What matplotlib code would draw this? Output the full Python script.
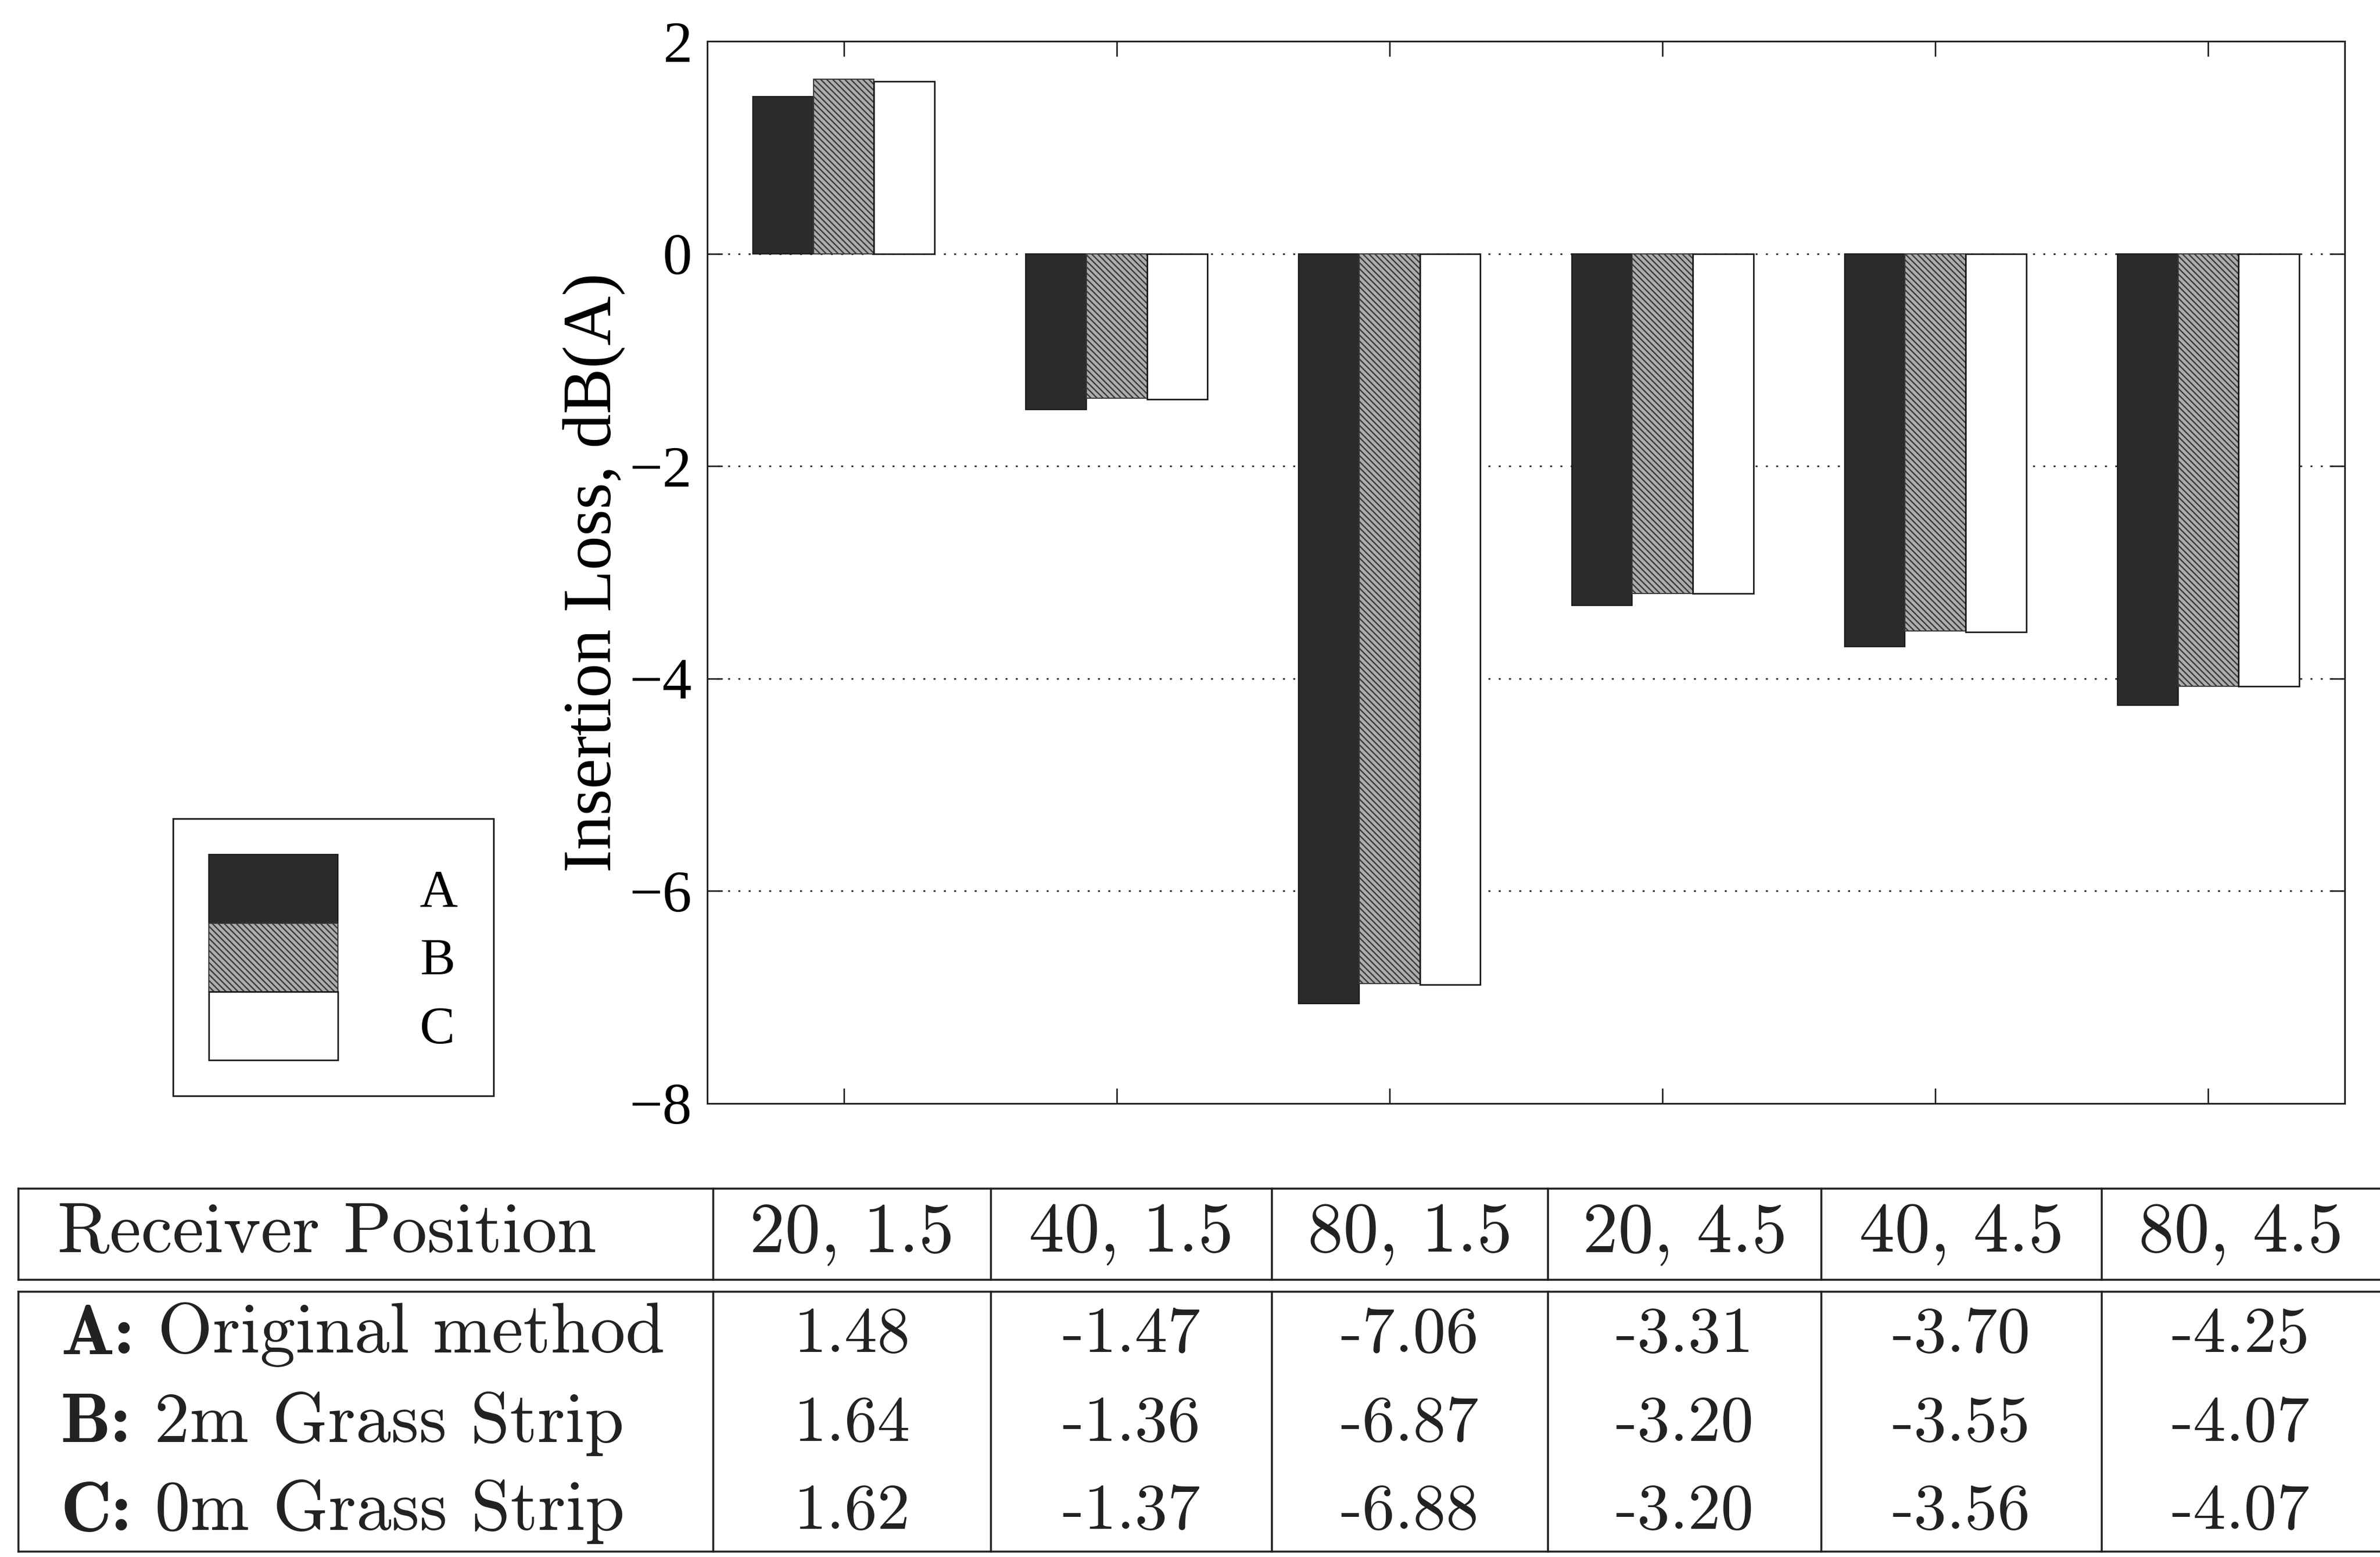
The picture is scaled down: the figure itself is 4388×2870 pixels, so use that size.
import numpy as np
import matplotlib.pyplot as plt

# Insertion loss at each receiver position (distance m, height m), dB(A)
positions = ['20, 1.5', '40, 1.5', '80, 1.5', '20, 4.5', '40, 4.5', '80, 4.5']
loss_a = [1.48, -1.47, -7.06, -3.31, -3.70, -4.25]
loss_b = [1.64, -1.36, -6.87, -3.20, -3.55, -4.07]
loss_c = [1.62, -1.37, -6.88, -3.20, -3.56, -4.07]
short_names = ['A', 'B', 'C']
long_names = ['Original method', '2m Grass Strip', '0m Grass Strip']
y_ticks = [2, 0, -2, -4, -6, -8]

plt.rcParams['hatch.linewidth'] = 1.8
serif = 'Liberation Serif'

W, H = 4388, 2870
fig = plt.figure(figsize=(W / 100, H / 100), dpi=100)

# ---- bar chart ----
ax = fig.add_axes([1304 / W, 1 - 2034 / H, (4323 - 1304) / W, (2034 - 76) / H])
x = np.arange(1, len(positions) + 1)
bw = 0.222
styles = [
    dict(color='#2b2b2b', edgecolor='#1a1a1a', linewidth=1.5),
    dict(color='#adadad', edgecolor='#3a3a3a', linewidth=1.5, hatch='\\' * 3),
    dict(color='white', edgecolor='#1a1a1a', linewidth=2),
]
bars = []
for i, (vals, st) in enumerate(zip([loss_a, loss_b, loss_c], styles)):
    bars.append(ax.bar(x + (i - 1) * bw, vals, bw, zorder=2, **st))

ax.set_xlim(0.5, len(positions) + 0.5)
ax.set_ylim(-8, 2)
ax.set_xticks(x)
ax.set_xticklabels([])
ax.set_yticks(y_ticks)
ax.set_yticklabels([str(t).replace('-', '\u2212') for t in y_ticks],
                   fontfamily=serif, fontsize=78)
ax.tick_params(direction='in', length=20, width=2, top=True, right=True,
               pad=20, color='#222')
ax.yaxis.grid(True, linestyle=(0, (1.2, 5)), color='#333', linewidth=2.2)
ax.set_axisbelow(True)
for s in ax.spines.values():
    s.set_linewidth(2.2)
    s.set_color('#222')
ax.set_ylabel('Insertion Loss, dB(A)', fontfamily=serif, fontsize=91)
ax.yaxis.set_label_coords(-0.05, 0.5)

# stacked legend box
leg = fig.legend([b[0] for b in bars], short_names, loc='lower left',
                 bbox_to_anchor=(319 / W, 1 - 2020 / H), borderaxespad=0,
                 prop={'family': serif, 'size': 70},
                 handlelength=2.45, handleheight=1.62, labelspacing=0,
                 handletextpad=1.55, borderpad=0.68, fancybox=False,
                 edgecolor='#222', framealpha=1)
leg.get_frame().set_linewidth(2.2)

# ---- data table ----
tab = fig.add_axes([0, 0, 1, 1])
tab.set_xlim(0, W)
tab.set_ylim(H, 0)
tab.axis('off')

col_edges = [34, 1315, 1827, 2345, 2854, 3358, 3875, W]
top, head_bot, body_top, bottom = 2191, 2359, 2381, 2860
row_y = [2462, 2626, 2788]
lk = dict(color='#222', linewidth=2.6)

for yy in (top, head_bot, body_top, bottom):
    tab.plot([col_edges[0], W], [yy, yy], **lk)
for xe in col_edges[:-1]:
    tab.plot([xe, xe], [top, head_bot], **lk)
    tab.plot([xe, xe], [body_top, bottom], **lk)

cm = dict(fontfamily='cmr10', fontsize=94, color='#222')
num = dict(fontfamily='cmr10', fontsize=87, color='#222')
tab.text(106, (top + head_bot) / 2, 'Receiver Position', ha='left', va='center', **cm)
for j, p in enumerate(positions):
    xc = (col_edges[j + 1] + col_edges[j + 2]) / 2
    tab.text(xc, (top + head_bot) / 2, p, ha='center', va='center', **cm)

for r, (lbl, name, vals) in enumerate(zip(short_names, long_names, [loss_a, loss_b, loss_c])):
    t = tab.text(112, row_y[r], lbl + ':', ha='left', va='center',
                 fontfamily='cmb10', fontsize=94, color='#222')
    tab.annotate(' ' + name, xycoords=t, xy=(1, 0), va='bottom', ha='left', **cm)
    for j, v in enumerate(vals):
        xc = (col_edges[j + 1] + col_edges[j + 2]) / 2
        tab.text(xc, row_y[r], f'{v:.2f}', ha='center', va='center', **num)

fig.savefig('out.png', dpi=100, facecolor='white')
